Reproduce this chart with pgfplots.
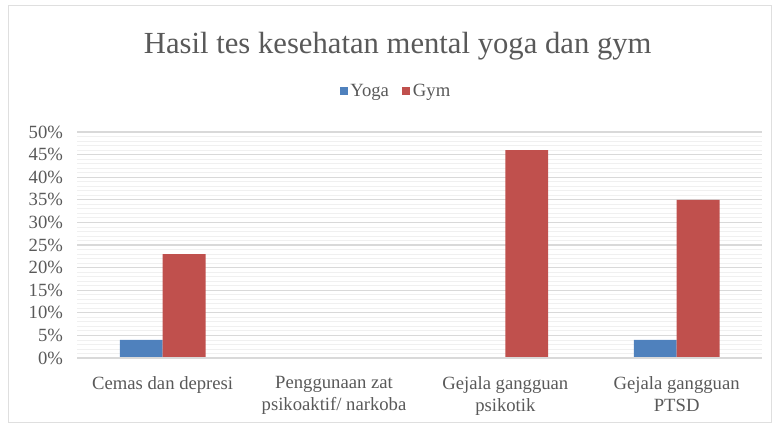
\documentclass[border=0pt]{standalone}
\usepackage{pgfplots}
\pgfplotsset{compat=1.18}
\usepackage{fontspec}
\setmainfont{Liberation Serif}
\definecolor{txt}{HTML}{595959}
\definecolor{yoga}{HTML}{4F81BD}
\definecolor{gym}{HTML}{C0504D}
\definecolor{majgrid}{HTML}{D9D9D9}
\definecolor{mingrid}{HTML}{F0F0F0}
\begin{document}
\begin{tikzpicture}
\path[use as bounding box] (-57.75pt,-50.25pt) rectangle (522pt,268.5pt);
\draw[gray!25] (-51.75pt,-48.5pt) rectangle (521pt,264.5pt);
\begin{axis}[
  at={(0pt,0pt)}, anchor=south west,
  scale only axis, width=514pt, height=169.5pt,
  xmin=-0.5, xmax=3.5, ymin=0, ymax=50,
  ybar, bar width=0.25,
  xtick={0,1,2,3},
  xticklabels={Cemas dan depresi,Penggunaan zat\\psikoaktif/ narkoba,Gejala gangguan\\psikotik,Gejala gangguan\\PTSD},
  xticklabel style={align=center, text=txt, font=\fontsize{14}{16.5}\selectfont, yshift=-10pt},
  ytick={0,5,...,50},
  yticklabel={\pgfmathprintnumber{\tick}\%},
  yticklabel style={text=txt, font=\fontsize{14}{16}\selectfont, xshift=-7pt},
  /pgf/number format/assume math mode=true,
  minor y tick num=4,
  ymajorgrids, yminorgrids,
  major grid style={majgrid, line width=0.8pt},
  minor grid style={mingrid, line width=0.6pt},
  axis line style={draw=none},
  axis x line*=bottom,
  major tick length=0pt, minor tick length=0pt,
  title={Hasil tes kesehatan mental yoga dan gym},
  title style={text=txt, font=\fontsize{23}{26}\selectfont, at={(0.468,1.345)}, anchor=center},
  legend style={at={(0.466,1.18)}, anchor=center, draw=none, legend columns=2,
    font=\fontsize{14}{16}\selectfont, text=txt,
    /tikz/every even column/.append style={column sep=8pt}},
  legend image code/.code={\fill[#1] (1pt,-3pt) rectangle (7pt,3pt);},
  clip=false,
]
\addplot[fill=yoga, draw=none, bar shift=-0.125] coordinates {(0,4) (3,4)};
\addplot[fill=gym, draw=none, bar shift=0.125] coordinates {(0,23) (2,46) (3,35)};
\legend{Yoga,Gym}
\draw[majgrid, line width=0.8pt] (rel axis cs:0,0) -- (rel axis cs:1,0);
\end{axis}
\end{tikzpicture}
\end{document}
